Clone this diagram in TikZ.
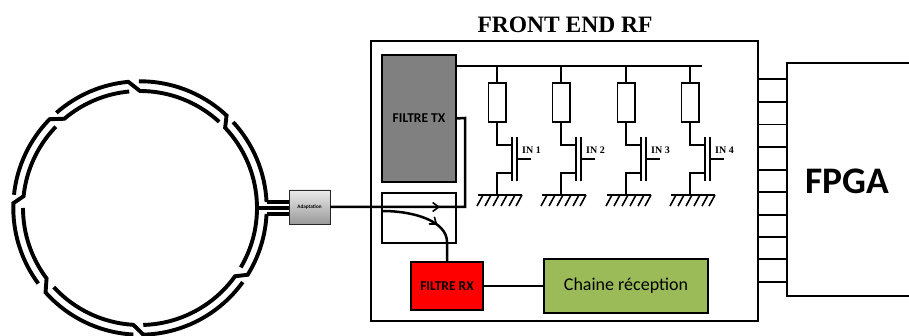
\documentclass[tikz,border=0pt]{standalone}
\usepackage{fontspec}
\setmainfont{Liberation Serif}
\newfontfamily\calib{Carlito}
\usetikzlibrary{arrows.meta,calc,decorations.markings,positioning,shadows}
\definecolor{figGray}{RGB}{128,128,128}
\definecolor{figRed}{RGB}{254,0,0}
\definecolor{figGreen}{RGB}{155,187,89}
\tikzset{
  box/.style={draw=black,line width=1.5pt,inner sep=0pt,outer sep=0pt},
  softshadow/.style={drop shadow={shadow xshift=0.8pt,shadow yshift=-0.8pt,opacity=.35}},
  ringline/.style={line width=3.9pt},
  wire/.style={line width=1.6pt},
  bigwire/.style={line width=2.5pt},
  arrowat/.style={postaction={decorate,decoration={markings,
    mark=at position #1 with {\arrow{Straight Barb[length=6pt,width=9pt,line width=1.6pt]}}}}}
}
\begin{document}
\begin{tikzpicture}[x=1pt,y=1pt]
\useasboundingbox (0,0) rectangle (909,336);
% ring
\coordinate (ring) at (140,128);
\foreach \a/\b/\c/\d in {131.3/95.3/90/47.4,90.5/46.9/43.3/-30.5,-35.8/-88.5/-93.3/-137.5,
  267/221.8/217/180,216.6/177.8/174.2/136,174/135.5/130.3/95.3}
  \draw[ringline] ($(ring)+(\a:126.7)$) arc[start angle=\a,end angle=\b,radius=126.7]
    -- ($(ring)+(\c:117)$) arc[start angle=\c,end angle=\d,radius=117];
\draw[ringline] ($(ring)+(42.7:126.7)$) arc[start angle=42.7,end angle=2.7,radius=126.7] coordinate (portA);
\draw[ringline] ($(ring)+(-2.7:126.7)$) coordinate (portC) arc[start angle=-2.7,end angle=-31.8,radius=126.7]
    -- ($(ring)+(-35.7:117)$) arc[start angle=-35.7,end angle=-88.4,radius=117];
\coordinate (portB) at ($(ring)+(0:117)$);
% main blocks
\node[box,line width=1.3pt,minimum width=387pt,minimum height=280pt] (frontend) at (564.5,155) {};
\node[font=\fontsize{23.5}{25}\selectfont\bfseries] (title) at (565,311) {FRONT END RF};
\node[box,fill=figGray,minimum width=74pt,minimum height=127pt,font=\calib\fontsize{13.5}{15}\selectfont\bfseries] (tx) at (419,217.5) {FILTRE TX};
\node[box,minimum width=74pt,minimum height=50pt] (coupler) at (419,118) {};
\node[draw=black!85,line width=0.9pt,inner sep=0pt,outer sep=0pt,top color=black!8,bottom color=black!40,softshadow,
  minimum width=41pt,minimum height=34pt,font=\calib\fontsize{5.2}{6}\selectfont\bfseries] (adapt) at (309.5,129) {Adaptation};
\node[box,line width=1.8pt,fill=figRed,minimum width=72pt,minimum height=48pt,font=\calib\fontsize{13.5}{15}\selectfont\bfseries] (rx) at (447,50) {FILTRE RX};
\node[box,line width=2.4pt,fill=figGreen,softshadow,minimum width=164pt,minimum height=54pt,font=\calib\fontsize{18}{20}\selectfont] (chain) at (626,50) {Chaine réception};
\node[box,minimum width=133pt,minimum height=233pt] (fpga) at (853.5,156.5) {};
\node[font=\calib\fontsize{37.5}{40}\selectfont\bfseries] (fpganame) at (847,155) {FPGA};
% ring ports
\draw[ringline] (portA) -- (portA -| adapt.west);
\draw[ringline] (portB) -- (portB -| adapt.west);
\draw[ringline] (portC) -- (portC -| adapt.west);
% signal paths
\coordinate (corner) at (465,218);
\coordinate (cplin) at (382,125);
\draw[bigwire,arrowat=110pt] (adapt.east) -| (corner) -- (tx.east);
\draw[bigwire,arrowat=58pt] (cplin) .. controls (416,125) and (447,114) .. (447,94) -- (rx.north);
\draw[bigwire] (rx.east) -- (chain.west);
% bus and transistors
\coordinate (busend) at (702,270);
\draw[wire] (tx.east |- busend) -- (busend);
\foreach \x/\n in {497/1,561/2,626/3,690/4}{
  \node[box,minimum width=17.5pt,minimum height=39pt] (res\n) at (\x,233.5) {};
  \node[anchor=west,inner sep=0pt,font=\fontsize{10}{11}\selectfont\bfseries] (in\n) at (\x+25,186) {IN \n};
  \draw[wire] (\x,270) -- (res\n.north);
  \draw[wire] (res\n.south) |- (\x+15,191);
  \draw[wire] (\x+15,199) -- (\x+15,155);
  \draw[wire] (\x+20,199) -- (\x+20,155);
  \draw[wire] (\x+20,177) -- (\x+34,177);
  \draw[wire] (\x+15,163) -| (\x,141);
  \draw[wire] (\x-19,141) -- (\x+25,141);
  \foreach \h in {-14,-6,2,10,18,25}
    \draw[wire] (\x+\h,141) -- (\x+\h-6,130);
}
% links to the FPGA
\foreach \y in {79,102,124.5,147,170,192,215,237,259,282}
  \draw[wire] (frontend.east |- 0,336-\y) -- (fpga.west |- 0,336-\y);
\end{tikzpicture}
\end{document}
